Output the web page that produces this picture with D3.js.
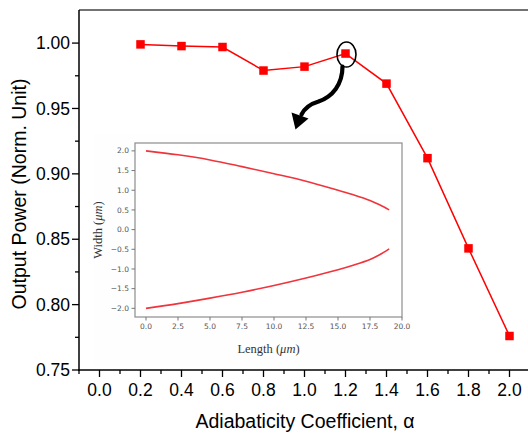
<!DOCTYPE html>
<meta charset="utf-8">
<style>
  body { margin: 0; background: #fff; }
  svg text { font-family: "Liberation Sans", Arial, sans-serif; }
</style>
<body>
<div class="chart"></div>
<script src="https://d3js.org/d3.v7.min.js"></script>
<script>
    // main series
    const alpha = [0.2, 0.4, 0.6, 0.8, 1.0, 1.2, 1.4, 1.6, 1.8, 2.0];
    const power = [0.999, 0.9977, 0.997, 0.979, 0.982, 0.992, 0.969, 0.912, 0.843, 0.776];
    const xTicks = [0.0, 0.2, 0.4, 0.6, 0.8, 1.0, 1.2, 1.4, 1.6, 1.8, 2.0];
    const yTicks = [0.75, 0.80, 0.85, 0.90, 0.95, 1.00];

    // inset: taper profile
    const taperLength = [0, 2.5, 5, 7.5, 10, 12.5, 15, 16.25, 17.5, 18.25, 19];
    const upperWidth = [2.0, 1.9, 1.77, 1.6, 1.42, 1.23, 1.0, 0.88, 0.74, 0.63, 0.5];
    const lowerWidth = [-2.0, -1.88, -1.74, -1.59, -1.42, -1.23, -1.02, -0.9, -0.76, -0.64, -0.49];
    const insetXTicks = [0, 2.5, 5, 7.5, 10, 12.5, 15, 17.5, 20];
    const insetYTicks = [-2.0, -1.5, -1.0, -0.5, 0.0, 0.5, 1.0, 1.5, 2.0];

    const width = 528, height = 434;
    const margin = {top: 10, left: 79, bottom: 63};

    let svg = d3.select(".chart").append("svg")
        .attr("width", width)
        .attr("height", height);

    let x = d3.scaleLinear().domain([-0.1, 2.1]).range([margin.left, margin.left + 2.2 * 205]);
    let y = d3.scaleLinear().domain([0.75, 1.0253]).range([height - margin.bottom - 1, margin.top]);

    let x0 = margin.left, yBottom = y(0.75);

    // frame: top border + left/bottom axes
    svg.append("line")
        .attr("x1", x0).attr("x2", width)
        .attr("y1", margin.top).attr("y2", margin.top)
        .attr("stroke", "#444").attr("stroke-width", 1.5);

    // y axis
    let yAxis = svg.append("g").attr("transform", `translate(${x0},0)`);
    yAxis.append("line").attr("y1", margin.top).attr("y2", yBottom + 1)
        .attr("stroke", "#000").attr("stroke-width", 1.5);
    let yMinor = d3.range(0.775, 1.02, 0.05);
    yAxis.selectAll(".minor").data(yMinor).join("line")
        .attr("x1", -4).attr("x2", 0)
        .attr("y1", d => y(d)).attr("y2", d => y(d))
        .attr("stroke", "#000").attr("stroke-width", 1.3);
    yAxis.selectAll(".major").data(yTicks).join("line")
        .attr("x1", -7).attr("x2", 0)
        .attr("y1", d => y(d)).attr("y2", d => y(d))
        .attr("stroke", "#000").attr("stroke-width", 1.3);
    yAxis.selectAll("text").data(yTicks).join("text")
        .attr("x", -9).attr("y", d => y(d))
        .attr("dy", "0.35em")
        .attr("text-anchor", "end")
        .attr("font-size", 17.5)
        .text(d => d.toFixed(2));

    // x axis
    let xAxis = svg.append("g").attr("transform", `translate(0,${yBottom})`);
    xAxis.append("line").attr("x1", x0 - 0.75).attr("x2", width)
        .attr("stroke", "#000").attr("stroke-width", 1.5);
    let xMinor = d3.range(-0.1, 2.11, 0.2);
    xAxis.selectAll(".minor").data(xMinor).join("line")
        .attr("x1", d => x(d)).attr("x2", d => x(d))
        .attr("y1", 0).attr("y2", 4)
        .attr("stroke", "#000").attr("stroke-width", 1.3);
    xAxis.selectAll(".major").data(xTicks).join("line")
        .attr("x1", d => x(d)).attr("x2", d => x(d))
        .attr("y1", 0).attr("y2", 7)
        .attr("stroke", "#000").attr("stroke-width", 1.3);
    xAxis.selectAll("text").data(xTicks).join("text")
        .attr("x", d => x(d)).attr("y", 26)
        .attr("text-anchor", "middle")
        .attr("font-size", 17.5)
        .text(d => d.toFixed(1));

    // axis titles
    svg.append("text")
        .attr("transform", `translate(26,${(margin.top + yBottom) / 2 + 4}) rotate(-90)`)
        .attr("text-anchor", "middle")
        .attr("font-size", 19.5)
        .text("Output Power (Norm. Unit)");
    svg.append("text")
        .attr("x", 305).attr("y", 428)
        .attr("text-anchor", "middle")
        .attr("font-size", 19.5)
        .text("Adiabaticity Coefficient, \u03b1");

    // ---- inset (matplotlib-looking) ----
    let inset = {left: 135, top: 143, right: 402, bottom: 317};
    svg.append("rect")
        .attr("x", 93).attr("y", 134).attr("width", 318).attr("height", 232)
        .attr("fill", "#fefefe");

    let ix = d3.scaleLinear().domain([-0.86, 20.0]).range([inset.left, inset.right]);
    let iy = d3.scaleLinear().domain([-2.22, 2.2]).range([inset.bottom, inset.top]);

    let ig = svg.append("g");
    ig.append("rect")
        .attr("x", inset.left).attr("y", inset.top)
        .attr("width", inset.right - inset.left).attr("height", inset.bottom - inset.top)
        .attr("fill", "#fff").attr("stroke", "#8c8c8c").attr("stroke-width", 1.2);

    ig.selectAll(".ixt").data(insetXTicks).join("line")
        .attr("x1", d => ix(d)).attr("x2", d => ix(d))
        .attr("y1", inset.bottom).attr("y2", inset.bottom + 3.5)
        .attr("stroke", "#777");
    ig.selectAll(".ixl").data(insetXTicks).join("text")
        .attr("x", d => ix(d)).attr("y", inset.bottom + 12)
        .attr("text-anchor", "middle")
        .attr("font-size", 7.5).attr("fill", "#555")
        .style("font-family", "'DejaVu Sans', sans-serif")
        .text(d => d.toFixed(1));
    ig.selectAll(".iyt").data(insetYTicks).join("line")
        .attr("x1", inset.left - 3.5).attr("x2", inset.left)
        .attr("y1", d => iy(d)).attr("y2", d => iy(d))
        .attr("stroke", "#777");
    ig.selectAll(".iyl").data(insetYTicks).join("text")
        .attr("x", inset.left - 6).attr("y", d => iy(d))
        .attr("dy", "0.35em")
        .attr("text-anchor", "end")
        .attr("font-size", 7.5).attr("fill", "#555")
        .style("font-family", "'DejaVu Sans', sans-serif")
        .text(d => d.toFixed(1).replace("-", "\u2212"));

    ig.append("text")
        .attr("x", (inset.left + inset.right) / 2).attr("y", 353)
        .attr("text-anchor", "middle")
        .attr("font-size", 12.5).attr("fill", "#333")
        .style("font-family", "'Liberation Serif', 'DejaVu Serif', serif")
        .html("Length (<tspan font-style='italic'>\u03bcm</tspan>)");
    ig.append("text")
        .attr("transform", `translate(102,${(inset.top + inset.bottom) / 2}) rotate(-90)`)
        .attr("text-anchor", "middle")
        .attr("font-size", 12.5).attr("fill", "#333")
        .style("font-family", "'Liberation Serif', 'DejaVu Serif', serif")
        .html("Width (<tspan font-style='italic'>\u03bcm</tspan>)");

    let taperLine = d3.line().curve(d3.curveCatmullRom)
        .x(d => ix(d[0])).y(d => iy(d[1]));
    [upperWidth, lowerWidth].forEach(w => {
        ig.append("path")
            .datum(taperLength.map((l, i) => [l, w[i]]))
            .attr("d", taperLine)
            .attr("fill", "none")
            .attr("stroke", "#f0343c")
            .attr("stroke-width", 1.6);
    });

    // ---- main series ----
    let pts = alpha.map((a, i) => [a, power[i]]);
    svg.append("path")
        .datum(pts)
        .attr("d", d3.line().x(d => x(d[0])).y(d => y(d[1])))
        .attr("fill", "none")
        .attr("stroke", "#ff0000")
        .attr("stroke-width", 1.5);
    const ms = 8.5;
    svg.selectAll(".marker").data(pts).join("rect")
        .attr("x", d => x(d[0]) - ms / 2)
        .attr("y", d => y(d[1]) - ms / 2)
        .attr("width", ms).attr("height", ms)
        .attr("fill", "#ff0000");

    // ---- annotation: ellipse + curved arrow at alpha = 1.2 ----
    let cx = x(1.2) + 1, cy = y(0.992) + 1;
    svg.append("ellipse")
        .attr("cx", cx).attr("cy", cy)
        .attr("rx", 9.5).attr("ry", 12.5)
        .attr("fill", "none").attr("stroke", "#000").attr("stroke-width", 1.6);
    svg.append("path")
        .attr("d", `M${cx - 4},${cy + 12} C${cx - 4},${cy + 30} ${cx - 14},${cy + 42} ${cx - 28},${cy + 47}`
            + ` C${cx - 38},${cy + 50} ${cx - 42},${cy + 54} ${cx - 45},${cy + 60}`)
        .attr("fill", "none").attr("stroke", "#000").attr("stroke-width", 4.2)
        .attr("stroke-linecap", "round");
    svg.append("path")
        .attr("d", `M${cx - 51},${cy + 75} L${cx - 55},${cy + 58} L${cx - 38},${cy + 64} Z`)
        .attr("fill", "#000");
</script>
</body>
